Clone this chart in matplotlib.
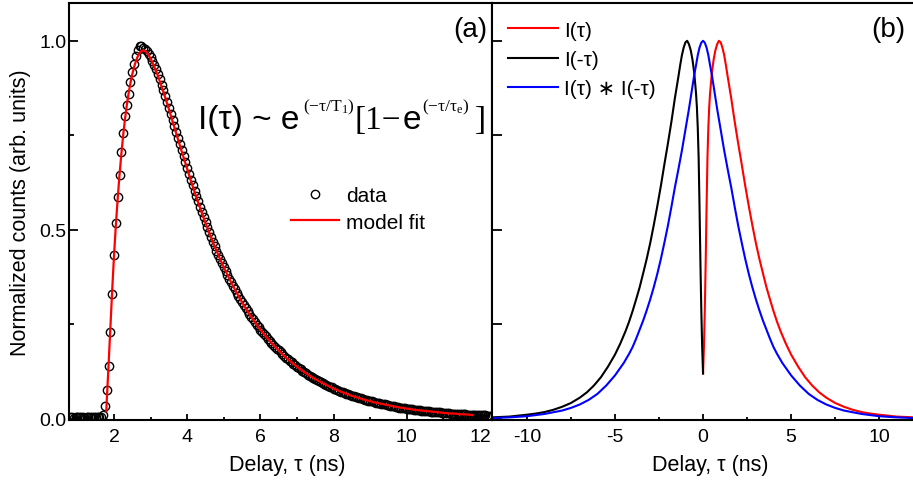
import numpy as np
import matplotlib.pyplot as plt

plt.rcParams['font.family'] = ['Liberation Sans', 'DejaVu Sans']
plt.rcParams['mathtext.fontset'] = 'custom'
plt.rcParams['mathtext.rm'] = 'Liberation Serif'
plt.rcParams['mathtext.it'] = 'Liberation Serif'
plt.rcParams['axes.unicode_minus'] = False

# ---- panel (a): measured decay, sampled every 0.05 ns from 0.80 ns ----
delay_start = 0.80
delay_step = 0.05
counts = [
    # baseline 0.80 - 1.65
    0.004, 0.005, 0.003, 0.005, 0.004, 0.006, 0.004, 0.005, 0.003, 0.005,
    0.004, 0.005, 0.006, 0.004, 0.005, 0.004, 0.005, 0.006,
    # rise 1.70 - 2.75
    0.009, 0.034, 0.077, 0.141, 0.231, 0.329, 0.434, 0.518, 0.588, 0.646,
    0.705, 0.757, 0.800, 0.831, 0.860, 0.891, 0.917, 0.939, 0.961, 0.977,
    0.986, 0.985,
    # decay 2.80 - 12.30
    0.981, 0.978, 0.972, 0.966, 0.957, 0.947, 0.937, 0.925, 0.912, 0.898,
    0.884, 0.869, 0.854, 0.838, 0.823, 0.807, 0.791, 0.775, 0.759, 0.743,
    0.727, 0.711, 0.696, 0.680, 0.664, 0.648, 0.633, 0.619, 0.604, 0.589,
    0.575, 0.561, 0.547, 0.533, 0.520, 0.507, 0.494, 0.481, 0.469, 0.457,
    0.445, 0.433, 0.422, 0.412, 0.401, 0.391, 0.381, 0.371, 0.361, 0.352,
    0.343, 0.334, 0.325, 0.316, 0.308, 0.300, 0.292, 0.285, 0.277, 0.270,
    0.263, 0.256, 0.249, 0.242, 0.236, 0.230, 0.224, 0.218, 0.212, 0.206,
    0.201, 0.196, 0.191, 0.185, 0.181, 0.176, 0.171, 0.167, 0.162, 0.158,
    0.154, 0.150, 0.146, 0.142, 0.138, 0.134, 0.131, 0.127, 0.124, 0.121,
    0.117, 0.114, 0.111, 0.108, 0.105, 0.102, 0.100, 0.097, 0.095, 0.092,
    0.090, 0.087, 0.085, 0.083, 0.080, 0.078, 0.076, 0.074, 0.072, 0.070,
    0.068, 0.067, 0.065, 0.063, 0.061, 0.060, 0.058, 0.057, 0.055, 0.054,
    0.052, 0.051, 0.049, 0.048, 0.047, 0.046, 0.044, 0.043, 0.042, 0.041,
    0.040, 0.039, 0.038, 0.037, 0.036, 0.035, 0.034, 0.033, 0.032, 0.031,
    0.030, 0.030, 0.029, 0.028, 0.027, 0.027, 0.026, 0.025, 0.024, 0.024,
    0.023, 0.023, 0.022, 0.021, 0.021, 0.020, 0.020, 0.019, 0.019, 0.018,
    0.018, 0.017, 0.017, 0.016, 0.016, 0.015, 0.015, 0.015, 0.014, 0.014,
    0.014, 0.013, 0.013, 0.012, 0.012, 0.012, 0.012, 0.011, 0.011, 0.011,
    0.010, 0.010, 0.010, 0.010, 0.009, 0.009, 0.009, 0.009, 0.008, 0.008,
    0.008,
]
delay = np.round(delay_start + delay_step * np.arange(len(counts)), 2)

fit_delay = [1.79, 1.80, 1.85, 1.90, 1.95, 2.00, 2.05, 2.10, 2.15, 2.20,
             2.25, 2.30, 2.35, 2.40, 2.45, 2.50, 2.55, 2.60, 2.65, 2.70,
             2.75, 2.80, 2.85, 2.90, 2.95] + list(np.round(np.arange(3.0, 11.81, 0.1), 2))
fit_counts = [
    0.020, 0.045, 0.140, 0.240, 0.340, 0.432, 0.512, 0.582, 0.645, 0.700,
    0.750, 0.793, 0.830, 0.862, 0.889, 0.912, 0.931, 0.947, 0.959, 0.968,
    0.973, 0.975, 0.973, 0.968, 0.961,
    0.953, 0.932, 0.907, 0.879, 0.850, 0.819, 0.787, 0.755, 0.723, 0.692,
    0.661, 0.630, 0.601, 0.572, 0.545, 0.518, 0.493, 0.468, 0.445, 0.422,
    0.401, 0.381, 0.361, 0.343, 0.325, 0.308, 0.292, 0.277, 0.263, 0.249,
    0.236, 0.224, 0.212, 0.201, 0.191, 0.181, 0.171, 0.162, 0.154, 0.146,
    0.138, 0.131, 0.124, 0.117, 0.111, 0.105, 0.100, 0.095, 0.090, 0.085,
    0.080, 0.076, 0.072, 0.068, 0.065, 0.061, 0.058, 0.055, 0.052, 0.049,
    0.047, 0.044, 0.042, 0.040, 0.038, 0.036, 0.034, 0.032, 0.030, 0.029,
    0.027, 0.026, 0.024, 0.023, 0.022, 0.021, 0.020, 0.019, 0.018, 0.017,
    0.016, 0.015, 0.014, 0.014, 0.013, 0.012, 0.012, 0.011, 0.010,
]

# ---- panel (b): I(tau), its mirror and their correlation ----
tau_i = [0.00, 0.05, 0.10, 0.15, 0.20, 0.25, 0.30, 0.35, 0.40, 0.50,
         0.60, 0.70, 0.80, 0.90, 1.00, 1.10, 1.20, 1.30, 1.40, 1.60,
         1.80, 2.00, 2.20, 2.40, 2.60, 2.80, 3.00, 3.20, 3.40, 3.60,
         3.80, 4.00, 4.20, 4.40, 4.70, 5.00, 5.40, 5.80, 6.20, 6.60,
         7.00, 7.50, 8.00, 8.50, 9.00, 9.50, 10.00, 11.00, 12.00]
i_tau = [0.120, 0.190, 0.290, 0.415, 0.560, 0.690, 0.770, 0.825, 0.862, 0.915,
         0.950, 0.975, 0.991, 1.000, 0.996, 0.982, 0.962, 0.935, 0.905, 0.848,
         0.785, 0.727, 0.672, 0.615, 0.562, 0.512, 0.465, 0.423, 0.385, 0.348,
         0.316, 0.285, 0.257, 0.232, 0.199, 0.170, 0.138, 0.110, 0.088, 0.070,
         0.056, 0.042, 0.032, 0.024, 0.018, 0.014, 0.011, 0.006, 0.004]

tau_c = [0.00, 0.10, 0.20, 0.30, 0.40, 0.50, 0.60, 0.80, 1.00, 1.20,
         1.40, 1.60, 1.80, 2.00, 2.20, 2.40, 2.60, 2.80, 3.00, 3.20,
         3.40, 3.60, 3.80, 4.00, 4.20, 4.50, 5.00, 5.50, 6.00, 6.50,
         7.00, 7.50, 8.00, 9.00, 10.00, 11.00, 12.00]
i_corr = [1.000, 0.995, 0.982, 0.962, 0.935, 0.910, 0.880, 0.820, 0.765, 0.710,
          0.660, 0.612, 0.560, 0.510, 0.465, 0.422, 0.383, 0.348, 0.316, 0.287,
          0.260, 0.236, 0.212, 0.190, 0.172, 0.148, 0.115, 0.088, 0.066, 0.050,
          0.038, 0.029, 0.022, 0.013, 0.007, 0.004, 0.002]

tau_i = np.array(tau_i)
i_tau = np.array(i_tau)
tau_c = np.array(tau_c)
i_corr = np.array(i_corr)
corr_x = np.concatenate([-tau_c[::-1], tau_c[1:]])
corr_y = np.concatenate([i_corr[::-1], i_corr[1:]])

fig = plt.figure(figsize=(9.13, 4.81), dpi=100)
W, H = 913, 481
ax1 = fig.add_axes([69 / W, 1 - 421 / H, 422.7 / W, 417 / H])
ax2 = fig.add_axes([491.7 / W, 1 - 421 / H, 422.7 / W, 417 / H])

ax1.plot(delay, counts, 'o', mfc='none', mec='black', ms=6, mew=1.0, label='data')
ax1.plot(fit_delay, fit_counts, color='red', lw=1.6, label='model fit')
ax1.set_xlim(0.77, 12.32)
ax1.set_ylim(-0.003, 1.10)
ax1.set_xticks(range(2, 13, 2))
ax1.set_xticks(range(1, 13), minor=True)
ax1.set_yticks([0, 0.5, 1.0])
ax1.set_yticklabels(['0.0', '0.5', '1.0'])
ax1.set_yticks([0.25, 0.75], minor=True)
ax1.set_xlabel('Delay, τ (ns)', fontsize=15.5, labelpad=6)
ax1.xaxis.label.set_x(0.517)
ax1.set_ylabel('Normalized counts (arb. units)', fontsize=15.5, labelpad=6)
ax1.text(0.989, 0.969, '(a)', transform=ax1.transAxes, ha='right', va='top', fontsize=20)
ax1.legend(loc='upper left', bbox_to_anchor=(0.525, 0.56), frameon=False, fontsize=15,
           borderpad=0, borderaxespad=0, handlelength=2.3, handletextpad=0.35,
           labelspacing=0.35)

# formula, written piece by piece, each piece placed after the previous one
renderer = fig.canvas.get_renderer()
pieces = [
    ('I(τ) ~ e', 0, 24, 'Liberation Sans', 4),
    (r'$(-\tau/T_1)$', 18, 12.5, 'Liberation Sans', 0),
    ('[1−', 0, 24, 'Liberation Serif', 1),
    ('e', 0, 24, 'Liberation Sans', 1),
    (r'$(-\tau/\tau_e)$', 18, 12.5, 'Liberation Sans', 6),
    (']', 0, 24, 'Liberation Serif', 0),
]
x = 198
for s, rise, size, fam, gap in pieces:
    t = fig.text(x / W, 1 - (129 - rise) / H, s, fontsize=size, family=fam,
                 va='baseline', ha='left')
    x = t.get_window_extent(renderer).x1 + gap

ax2.plot(tau_i, i_tau, color='red', lw=1.5, label='I(τ)')
ax2.plot(-tau_i, i_tau, color='black', lw=1.5, label='I(-τ)')
ax2.plot(corr_x, corr_y, color='blue', lw=1.5, label='I(τ) ∗ I(-τ)')
ax2.set_xlim(-12, 12)
ax2.set_ylim(-0.003, 1.10)
ax2.set_xticks([-10, -5, 0, 5, 10])
ax2.set_xticks([-7.5, -2.5, 2.5, 7.5], minor=True)
ax2.set_yticks([0, 0.25, 0.5, 0.75, 1.0])
ax2.set_yticklabels([])
ax2.set_xlabel('Delay, τ (ns)', fontsize=15.5, labelpad=6)
ax2.xaxis.label.set_x(0.517)
ax2.text(0.978, 0.969, '(b)', transform=ax2.transAxes, ha='right', va='top', fontsize=20)
ax2.legend(loc='upper left', bbox_to_anchor=(0.0386, 0.958), frameon=False, fontsize=15,
           borderpad=0, borderaxespad=0, handlelength=2.4, handletextpad=0.3,
           labelspacing=0.5)

for ax in (ax1, ax2):
    for s in ax.spines.values():
        s.set_linewidth(1.5)
    ax.tick_params(which='both', direction='in', top=False, right=False,
                   labelsize=14, width=1.3)
    ax.tick_params(axis='x', which='major', length=4.5, pad=6)
    ax.tick_params(axis='x', which='minor', length=2.5)
    ax.tick_params(axis='y', which='major', length=6.5, pad=2)
    ax.tick_params(axis='y', which='minor', length=3.5)
ax2.tick_params(axis='y', which='major', length=7.5)

fig.savefig('out.png', dpi=100)
